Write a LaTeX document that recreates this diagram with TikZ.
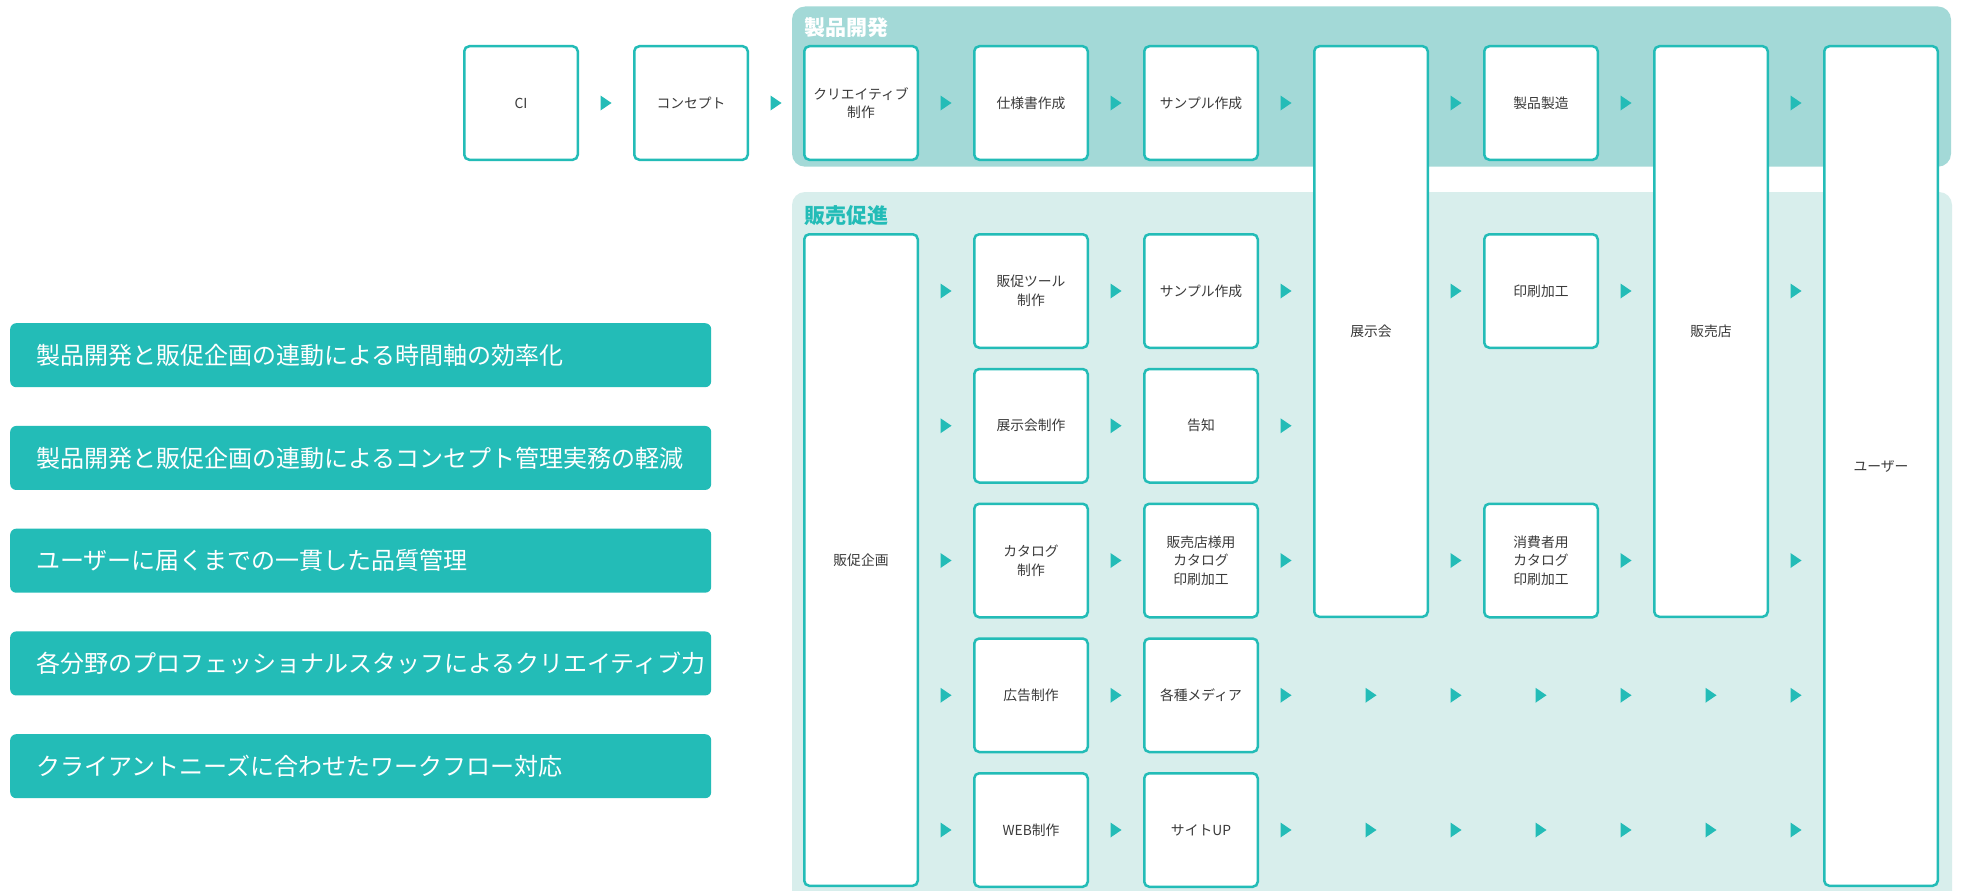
\documentclass[tikz,border=0pt]{standalone}
\usepackage{fontspec}
\setmainfont{Noto Sans CJK JP}
\usetikzlibrary{calc}
\definecolor{teal1}{HTML}{23BCB7}
\definecolor{panelA}{HTML}{A3D9D7}
\definecolor{panelB}{HTML}{D8EEEC}
\definecolor{txt}{HTML}{3A3A3A}
\tikzset{
  stepbox/.style={draw=teal1, line width=2.5pt, fill=white, rounded corners=5pt,
    minimum width=113.5pt, minimum height=113.5pt, text=txt,
    font=\fontsize{13.8}{18.5}\selectfont, align=center, inner sep=0pt},
  tallbox/.style={stepbox, minimum height=#1},
  feature/.style={fill=teal1, rounded corners=6pt, minimum height=64pt,
    text width=649pt, inner xsep=26pt, inner ysep=0pt, align=left,
    anchor=north west, text=white, font=\fontsize{24}{24}\selectfont},
  paneltitle/.style={anchor=west, inner sep=0pt, font=\fontsize{21}{21}\selectfont\bfseries},
  tri/.pic={\fill[teal1] (-5.5,-7.5) -- (5.5,0) -- (-5.5,7.5) -- cycle;}
}
\begin{document}
\begin{tikzpicture}[x=1pt,y=-1pt]
\clip (0,0) rectangle (1963,891);
\fill[white] (0,0) rectangle (1963,891);
% panels
\fill[panelA, rounded corners=13pt] (792,6.5) rectangle (1951,166.7);
\fill[panelB, rounded corners=13pt] (792,192) rectangle (1952,930);
\node[paneltitle, text=white] (t1) at (804,28) {製品開発};
\node[paneltitle, text=teal1] (t2) at (804,216) {販売促進};
% top row
\node[stepbox] (ci) at (521,103) {CI};
\node[stepbox] (concept) at (691,103) {コンセプト};
\node[stepbox] (creative) at (861,103) {クリエイティブ\\制作};
\node[stepbox] (spec) at (1031,103) {仕様書作成};
\node[stepbox] (sample) at (1201,103) {サンプル作成};
\node[tallbox=570.5pt] (expo) at (1371,331.5) {展示会};
\node[stepbox] (mfg) at (1541,103) {製品製造};
\node[tallbox=570.5pt] (shop) at (1711,331.5) {販売店};
\node[tallbox=839.5pt] (user) at (1881,466) {ユーザー};
% promotion
\node[tallbox=651.5pt] (plan) at (861,560) {販促企画};
\node[stepbox] (tool) at (1031,291) {販促ツール\\制作};
\node[stepbox] (sample2) at (1201,291) {サンプル作成};
\node[stepbox] (print) at (1541,291) {印刷加工};
\node[stepbox] (expomake) at (1031,425.75) {展示会制作};
\node[stepbox] (notice) at (1201,425.75) {告知};
\node[stepbox] (catalog) at (1031,560.5) {カタログ\\制作};
\node[stepbox] (shopcat) at (1201,560.5) {販売店様用\\カタログ\\印刷加工};
\node[stepbox] (conscat) at (1541,560.5) {消費者用\\カタログ\\印刷加工};
\node[stepbox] (ad) at (1031,695.25) {広告制作};
\node[stepbox] (media) at (1201,695.25) {各種メディア};
\node[stepbox] (web) at (1031,830) {WEB制作};
\node[stepbox] (site) at (1201,830) {サイトUP};
% arrows
\foreach \k in {0,...,7} \pic at ({606+170*\k},103) {tri};
\foreach \k in {2,...,7} \pic at ({606+170*\k},291) {tri};
\foreach \k in {2,3,4} \pic at ({606+170*\k},425.75) {tri};
\foreach \k in {2,...,7} \pic at ({606+170*\k},560.5) {tri};
\foreach \y in {695.25,830} {
  \foreach \x in {946,1116,1286,1371,1456,1541,1626,1711,1796} \pic at (\x,\y) {tri};
}
% features
\node[feature] (f1) at (10,323) {製品開発と販促企画の連動による時間軸の効率化};
\node[feature] (f2) at (10,425.75) {製品開発と販促企画の連動によるコンセプト管理実務の軽減};
\node[feature] (f3) at (10,528.5) {ユーザーに届くまでの一貫した品質管理};
\node[feature] (f4) at (10,631.25) {各分野のプロフェッショナルスタッフによるクリエイティブ力};
\node[feature] (f5) at (10,734) {クライアントニーズに合わせたワークフロー対応};
\end{tikzpicture}
\end{document}
